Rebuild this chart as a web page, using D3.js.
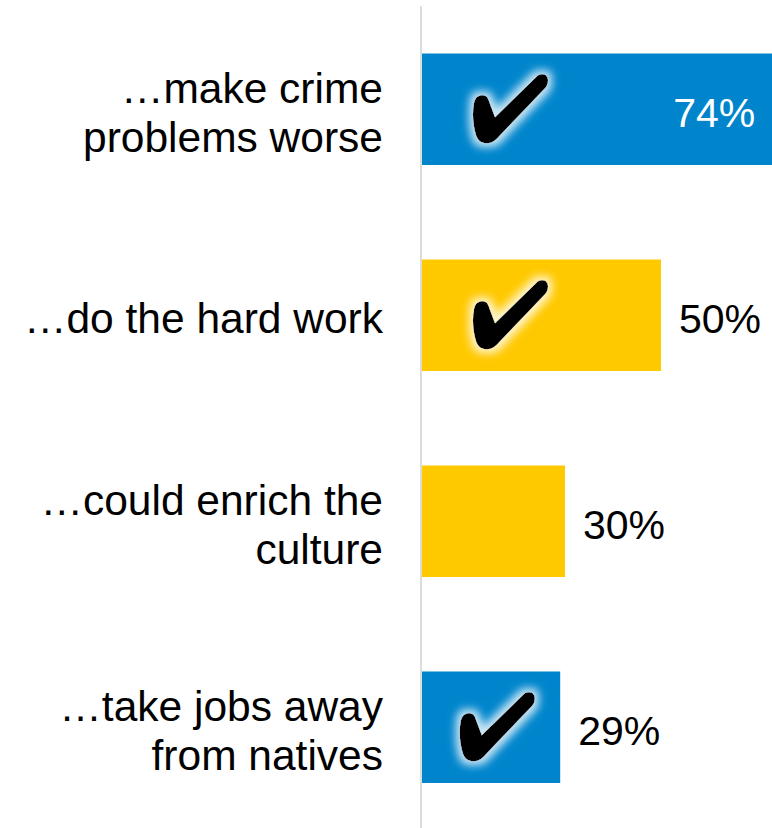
<!DOCTYPE html>
<html>
<head>
<meta charset="utf-8">
<script src="https://cdn.jsdelivr.net/npm/d3@7"></script>
<style>
  html, body { margin: 0; padding: 0; background: #ffffff; }
  svg { display: block; }
  text { font-family: "Liberation Sans", Arial, sans-serif; }
</style>
</head>
<body>
<svg id="chart" width="772" height="828"></svg>
<script>
// ---- data ----
const categories = [
  "…make crime\nproblems worse",
  "…do the hard work",
  "…could enrich the\nculture",
  "…take jobs away\nfrom natives"
];
const values = [74, 50, 30, 29];
const groups = ["negative", "positive", "positive", "negative"];
const checked = [true, true, false, true];
const valueLabels = values.map(v => v + "%");

// ---- layout ----
const W = 772, H = 828;
const svg = d3.select("#chart");

const y = d3.scaleBand()
  .domain(categories)
  .range([6.25, 830.25])
  .paddingInner(0.4587)
  .paddingOuter(0.2294);

const x = d3.scaleLinear().domain([0, 100]).range([421, 901]);

const color = d3.scaleOrdinal()
  .domain(["negative", "positive"])
  .range(["#0085CC", "#FFC900"]);

const data = categories.map((c, i) => ({
  cat: c, value: values[i], group: groups[i], check: checked[i], label: valueLabels[i]
}));

// glow filter for the check marks
const defs = svg.append("defs");
const f = defs.append("filter").attr("id", "glow")
  .attr("x", "-50%").attr("y", "-50%").attr("width", "200%").attr("height", "200%");
f.append("feMorphology").attr("in", "SourceAlpha").attr("operator", "dilate").attr("radius", 3.5).attr("result", "dil");
f.append("feGaussianBlur").attr("in", "dil").attr("stdDeviation", 4).attr("result", "blur");
f.append("feFlood").attr("flood-color", "#ffffff").attr("flood-opacity", 0.8).attr("result", "fl");
f.append("feComposite").attr("in", "fl").attr("in2", "blur").attr("operator", "in").attr("result", "glowc");
const fm = f.append("feMerge");
fm.append("feMergeNode").attr("in", "glowc");
fm.append("feMergeNode").attr("in", "SourceGraphic");

// bars
svg.append("g").selectAll("rect")
  .data(data).join("rect")
  .attr("x", x(0))
  .attr("y", d => y(d.cat))
  .attr("width", d => x(d.value) - x(0))
  .attr("height", y.bandwidth())
  .attr("fill", d => color(d.group));

// check marks
const checkPath = "M76,1 C79,1 81,4 81,7 C81,10 80,13 78,15 L34,61 C29,67 25,70 20,70 C15,70 11,68 9,62 C6,52 5,40 7,30 C8,24 12,22 15,22 C19,22 21,24 22,28 C24,33 26,39 28,44 L70,3 C72,1 74,1 76,1 Z";
svg.append("g").selectAll("path")
  .data(data.filter(d => d.check)).join("path")
  .attr("d", checkPath)
  .attr("fill", "#000")
  .attr("filter", "url(#glow)")
  .attr("transform", d => {
    const w = x(d.value) - x(0);
    const cx = x(0) + Math.min(87, w * 0.53);
    const cy = y(d.cat) + y.bandwidth() / 2 - 1;
    return `translate(${cx - 41},${cy - 35})`;
  });

// axis line
svg.append("line")
  .attr("x1", x(0)).attr("x2", x(0))
  .attr("y1", 6).attr("y2", H)
  .attr("stroke", "#dcdcdc").attr("stroke-width", 2);

// category labels
const catFont = 42.5, lineH = 49;
const cl = svg.append("g").selectAll("text")
  .data(data).join("text")
  .attr("text-anchor", "end")
  .attr("font-size", catFont)
  .attr("fill", "#000");
cl.each(function(d) {
  const lines = d.cat.split("\n");
  const cy = y(d.cat) + y.bandwidth() / 2;
  const t = d3.select(this);
  lines.forEach((ln, k) => {
    t.append("tspan")
      .attr("x", 383)
      .attr("y", cy + 17.8 + (k - (lines.length - 1) / 2) * lineH)
      .text(ln);
  });
});

// value labels
svg.append("g").selectAll("text")
  .data(data).join("text")
  .attr("font-size", 41)
  .attr("y", d => y(d.cat) + y.bandwidth() / 2 + 17.8)
  .text(d => d.label)
  .each(function(d) {
    const t = d3.select(this);
    const tw = this.getComputedTextLength();
    const end = x(d.value);
    if (end + 18 + tw > W) {
      t.attr("x", end - 21).attr("text-anchor", "end").attr("fill", "#ffffff");
    } else {
      t.attr("x", end + 18).attr("text-anchor", "start").attr("fill", "#000");
    }
  });
</script>
</body>
</html>
